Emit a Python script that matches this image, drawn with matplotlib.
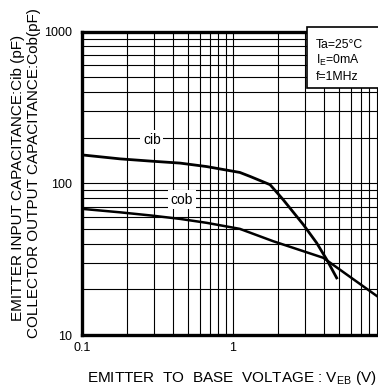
import numpy as np
import matplotlib
matplotlib.use("Agg")
import matplotlib.pyplot as plt
from matplotlib.patches import Rectangle

plt.rcParams['font.family'] = ['Liberation Sans', 'DejaVu Sans']
plt.rcParams['mathtext.fontset'] = 'custom'
plt.rcParams['mathtext.rm'] = 'Liberation Sans'
plt.rcParams['mathtext.default'] = 'regular'

# emitter input capacitance Cib (pF) vs Veb (V)
cib_v = [0.1, 0.179, 0.29, 0.446, 0.67, 1.11, 1.30, 1.76, 2.15, 2.92, 3.58, 4.17, 4.86]
cib_c = [154, 145, 140, 136, 129, 118, 111, 98, 78, 53.5, 40.5, 31.5, 23.8]

# collector output capacitance Cob (pF) vs Veb (V)
cob_v = [0.1, 0.179, 0.29, 0.446, 0.67, 1.11, 1.85, 3.96, 8.95]
cob_c = [67.9, 64.4, 61.3, 58.3, 54.9, 50.1, 41.5, 32.3, 18.1]

cond_lines = ["Ta=25°C", "I$_{E}$=0mA", "f=1MHz"]

fig = plt.figure(figsize=(3.78, 3.92), dpi=100)
# axes runs past the right edge like the clipped original
ax = fig.add_axes([82/378, 57/392, 302/378, 303.3/392])
ax.set_xscale('log')
ax.set_yscale('log')
ax.set_xlim(0.1, 10)
ax.set_ylim(10, 1000)

ax.grid(which='both', color='black', lw=0.8)
ax.set_axisbelow(True)
ax.tick_params(which='both', length=0, labelsize=9)
ax.tick_params(axis='y', pad=7)
ax.tick_params(axis='x', pad=5)
ax.set_xticks([0.1, 1])
ax.set_xticklabels(['0.1', '1'])
ax.set_yticks([10, 100, 1000])
ax.set_yticklabels(['10', '100', '1000'])
ax.xaxis.set_minor_formatter(plt.NullFormatter())
ax.yaxis.set_minor_formatter(plt.NullFormatter())
for s in ['left', 'top', 'bottom']:
    ax.spines[s].set_linewidth(2.4)
ax.spines['right'].set_visible(False)

ax.plot(cib_v, cib_c, color='black', lw=2.0, zorder=3)
ax.plot(cob_v, cob_c, color='black', lw=1.8, zorder=3)

ax.text(0.29, 194, 'cib', ha='center', va='center', fontsize=10,
        bbox=dict(facecolor='white', edgecolor='none', pad=2), zorder=4)
ax.text(0.457, 78, 'cob', ha='center', va='center', fontsize=10,
        bbox=dict(facecolor='white', edgecolor='none', pad=2), zorder=4)

ax.add_patch(Rectangle((0.744, 0.815), 0.3, 0.2, transform=ax.transAxes,
                       facecolor='white', edgecolor='black', lw=1.2,
                       zorder=5, clip_on=False))
for i, t in enumerate(cond_lines):
    ax.text(0.775, 0.957 - i*0.053, t, transform=ax.transAxes, fontsize=8.8,
            ha='left', va='center', zorder=6)

fig.text(0.047, 1 - 178/392, "EMITTER INPUT CAPACITANCE:Cib (pF)",
         rotation=90, ha='center', va='center', fontsize=11)
fig.text(0.09, 1 - 173/392, "COLLECTOR OUTPUT CAPACITANCE:Cob(pF)",
         rotation=90, ha='center', va='center', fontsize=11)
fig.text(232/378, 14/392, "EMITTER  TO  BASE  VOLTAGE : V$_{EB}$ (V)",
         ha='center', va='center', fontsize=11)

fig.savefig('out.png', dpi=100)
